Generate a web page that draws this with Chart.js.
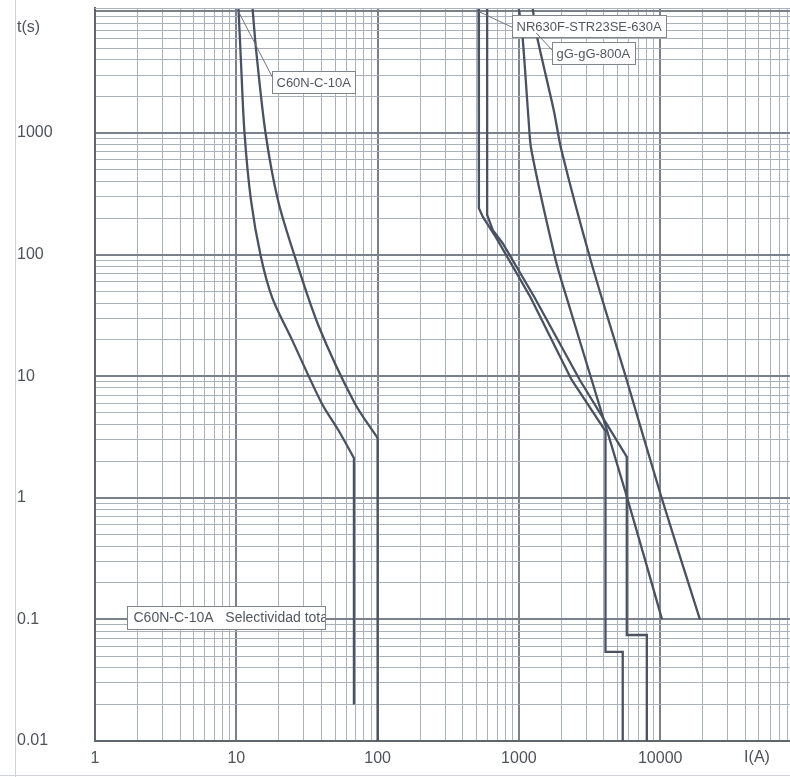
<!DOCTYPE html>
<html>
<head>
<meta charset="utf-8">
<script src="https://cdn.jsdelivr.net/npm/chart.js@4.4.1/dist/chart.umd.min.js"></script>
<style>
  html, body { margin: 0; padding: 0; background: #ffffff; }
  canvas { display: block; }
</style>
</head>
<body>
<canvas id="curvasChart" width="790" height="777"></canvas>
<script>
// Décadas con etiqueta en cada eje
const corrienteDecadas = [1, 10, 100, 1000, 10000];
const tiempoDecadas = [0.01, 0.1, 1, 10, 100, 1000];

// C60N-C-10A: banda de disparo (curva inferior y superior); el codo se repite para dejarlo en punta
const c60nInfI = [10.35, 10.8, 11.43, 12.7, 14.9, 18.0, 24.8, 40.1, 52.7, 68, 68, 68];
const c60nInfT = [11000, 3770, 1000, 281, 97, 43.9, 19.9, 6.03, 3.61, 2.12, 2.12, 0.02];
const c60nSupI = [13.0, 13.81, 16.1, 19.7, 25.9, 38.5, 68.7, 100, 100, 100];
const c60nSupT = [11000, 4820, 1000, 281, 97, 25.4, 6.03, 3.1, 3.1, 0.01];

// NR630F-STR23SE-630A
const nrInfI = [518, 521, 556, 685, 1205, 2364, 4100, 4100, 5430, 5430];
const nrInfT = [11000, 241, 204, 140, 44.8, 9.31, 3.54, 0.054, 0.054, 0.01];
const nrSupI = [596, 596, 654, 767, 1285, 2698, 5800, 5800, 8040, 8040];
const nrSupT = [11000, 212, 159, 124, 44.8, 9.31, 2.17, 0.0744, 0.0744, 0.01];

// Fusible gG-gG-800A
const gGInfI = [993, 1056, 1171, 1225, 1820, 2202, 3275, 5900, 10300];
const gGInfT = [11000, 6640, 1280, 725, 90.4, 42.4, 9.31, 0.96, 0.1];
const gGSupI = [1247, 1327, 1763, 1999, 3216, 5794, 10100, 19100];
const gGSupT = [11000, 6640, 1545, 725, 90.4, 9.31, 1.05, 0.1];

const colorCurva = "#4a5261";
const colorMayor = "#7b818b";
const colorMenor = "#abb1ba";

function puntos(iArr, tArr) {
    return iArr.map((v, k) => ({ x: v, y: tArr[k] }));
}

function serie(iArr, tArr, tension) {
    return {
        data: puntos(iArr, tArr),
        borderColor: colorCurva,
        borderWidth: 2.3,
        pointRadius: 0,
        tension: tension,
        fill: false,
        clip: 0
    };
}

function esDecada(v) {
    const l = Math.log10(v);
    return Math.abs(l - Math.round(l)) < 1e-6;
}

// 1..9 x 10^n dentro del rango del eje
function rejilla(min, max) {
    const vals = [];
    for (let e = Math.floor(Math.log10(min)); e <= Math.ceil(Math.log10(max)); e++) {
        for (let m = 1; m <= 9; m++) {
            const v = +(m * Math.pow(10, e)).toPrecision(6);
            if (v >= min * 0.999 && v <= max * 1.001) vals.push({ value: v });
        }
    }
    return vals;
}

// sin márgenes extra: el área de trazado la fijan layout.padding y afterFit
function sinMargen(scale) {
    scale.paddingTop = 0;
    scale.paddingBottom = 0;
    scale.paddingLeft = 0;
    scale.paddingRight = 0;
}

const etiquetas = [
    { texto: "C60N-C-10A", i: 10.35, t: 10000, dx: 34, dy: 60, ly: 6 },
    { texto: "NR630F-STR23SE-630A", i: 518, t: 10000, dx: 33, dy: 4, ly: 12 },
    { texto: "gG-gG-800A", i: 1327, t: 6640, dx: 16, dy: 9, ly: 8 }
];

const notas = {
    id: "notas",
    beforeDraw(chart) {
        const { ctx } = chart;
        ctx.save();
        ctx.strokeStyle = "#cfd2d6";
        ctx.lineWidth = 1;
        ctx.beginPath();
        ctx.moveTo(15.5, 0);
        ctx.lineTo(15.5, 777);
        ctx.moveTo(0, 775.5);
        ctx.lineTo(790, 775.5);
        ctx.stroke();
        ctx.restore();
    },
    afterDraw(chart) {
        const { ctx, chartArea, scales: { x, y } } = chart;
        ctx.save();

        // borde superior del área
        ctx.strokeStyle = colorMenor;
        ctx.lineWidth = 1;
        ctx.beginPath();
        ctx.moveTo(chartArea.left, chartArea.top + 0.5);
        ctx.lineTo(chartArea.right, chartArea.top + 0.5);
        ctx.stroke();

        ctx.font = "13px 'Liberation Sans', Arial, sans-serif";
        ctx.textBaseline = "middle";
        const h = 22;
        etiquetas.forEach(e => {
            const ax = x.getPixelForValue(e.i);
            const ay = y.getPixelForValue(e.t);
            const bx = Math.round(ax + e.dx) + 0.5;
            const by = Math.round(ay + e.dy) + 0.5;
            const w = Math.round(ctx.measureText(e.texto).width) + 9;
            ctx.strokeStyle = "#6f747b";
            ctx.lineWidth = 1;
            ctx.beginPath();
            ctx.moveTo(ax, ay);
            ctx.lineTo(bx, by + e.ly);
            ctx.stroke();
            ctx.fillStyle = "#ffffff";
            ctx.fillRect(bx, by, w, h);
            ctx.strokeStyle = "#80858c";
            ctx.strokeRect(bx, by, w, h);
            ctx.fillStyle = "#525761";
            ctx.textAlign = "left";
            ctx.fillText(e.texto, bx + 4, by + h / 2 + 1);
        });

        // nota de selectividad sobre la línea de 0.1 s
        const sx = Math.round(chartArea.left + 32) + 0.5;
        const sy = Math.round(y.getPixelForValue(0.1) - 13) + 0.5;
        const sw = 198;
        ctx.fillStyle = "#ffffff";
        ctx.fillRect(sx, sy, sw, 23);
        ctx.save();
        ctx.beginPath();
        ctx.rect(sx, sy, sw, 23);
        ctx.clip();
        ctx.font = "14px 'Liberation Sans', Arial, sans-serif";
        ctx.fillStyle = "#525761";
        ctx.fillText("C60N-C-10A   Selectividad total", sx + 6, sy + 12);
        ctx.restore();
        ctx.strokeStyle = "#80858c";
        ctx.strokeRect(sx, sy, sw, 23);

        // títulos de ejes
        ctx.font = "16px 'Liberation Sans', Arial, sans-serif";
        ctx.fillStyle = "#4f5359";
        ctx.textAlign = "left";
        ctx.fillText("t(s)", 17, 28);
        ctx.textAlign = "center";
        ctx.fillText("I(A)", 757, 758);
        ctx.restore();
    }
};

Chart.defaults.font.family = "'Liberation Sans', Arial, sans-serif";

new Chart(document.getElementById("curvasChart"), {
    type: "line",
    data: {
        datasets: [
            serie(c60nInfI, c60nInfT, 0.3),
            serie(c60nSupI, c60nSupT, 0.3),
            serie(nrInfI, nrInfT, 0),
            serie(nrSupI, nrSupT, 0),
            serie(gGInfI, gGInfT, 0.3),
            serie(gGSupI, gGSupT, 0.3)
        ]
    },
    options: {
        responsive: false,
        animation: false,
        layout: { padding: { left: 17, top: 8, right: 0, bottom: 0 } },
        plugins: {
            legend: { display: false },
            tooltip: { enabled: false }
        },
        scales: {
            x: {
                type: "logarithmic",
                min: 1,
                max: 82900,
                afterBuildTicks: scale => { scale.ticks = rejilla(1, 82900); },
                afterFit: scale => { scale.height = 36; sinMargen(scale); },
                border: { color: "#62666d", width: 2 },
                grid: {
                    drawTicks: false,
                    color: c => esDecada(c.tick.value) ? colorMayor : colorMenor,
                    lineWidth: c => esDecada(c.tick.value) ? 2 : 1
                },
                ticks: {
                    autoSkip: false,
                    maxRotation: 0,
                    padding: 8,
                    color: "#4f5359",
                    font: { size: 16 },
                    callback: v => corrienteDecadas.includes(v) ? String(v) : ""
                }
            },
            y: {
                type: "logarithmic",
                min: 0.01,
                max: 10670,
                afterBuildTicks: scale => { scale.ticks = rejilla(0.01, 10670); },
                afterFit: scale => { scale.width = 78; sinMargen(scale); },
                border: { color: "#62666d", width: 2 },
                grid: {
                    drawTicks: false,
                    color: c => esDecada(c.tick.value) ? colorMayor : colorMenor,
                    lineWidth: c => esDecada(c.tick.value) ? 2 : 1
                },
                ticks: {
                    autoSkip: false,
                    crossAlign: "far",
                    padding: 4,
                    color: "#4f5359",
                    font: { size: 16 },
                    callback: v => tiempoDecadas.includes(v) ? String(v) : ""
                }
            }
        }
    },
    plugins: [notas]
});
</script>
</body>
</html>
